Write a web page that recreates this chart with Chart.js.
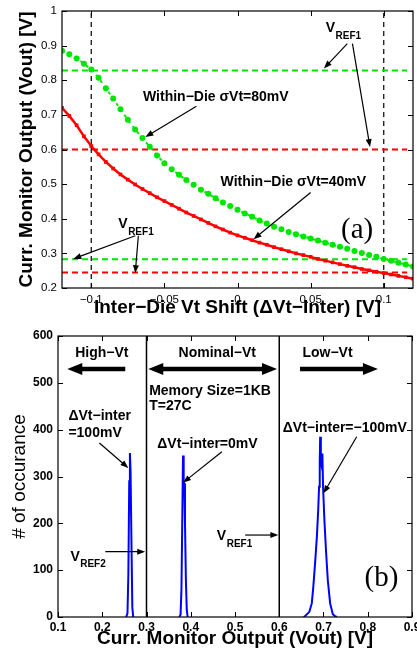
<!DOCTYPE html>
<html>
<head>
<meta charset="utf-8">
<title>Current monitor output</title>
<script src="https://cdn.jsdelivr.net/npm/chart.js@4/dist/chart.umd.min.js"></script>
<style>
  html, body { margin: 0; padding: 0; background: #fff; }
  #wrap { position: relative; width: 417px; height: 648px; overflow: hidden; }
  canvas { position: absolute; left: 0; }
  #chartA { top: 0; }
  #chartB { top: 322px; }
</style>
</head>
<body>
<div id="wrap">
  <canvas id="chartA" width="417" height="322"></canvas>
  <canvas id="chartB" width="417" height="326"></canvas>
</div>
<script>
/* (a) Vout vs inter-die Vt shift, (b) Vout histograms — two stacked Chart.js panels */

// ---- panel (a) data -------------------------------------------------------
var SHIFT_V = [-0.12, -0.115, -0.11, -0.105, -0.1, -0.095, -0.09, -0.085, -0.08, -0.075,
  -0.07, -0.065, -0.06, -0.055, -0.05, -0.045, -0.04, -0.035, -0.03, -0.025,
  -0.02, -0.015, -0.01, -0.005, 0, 0.005, 0.01, 0.015, 0.02, 0.025,
  0.03, 0.035, 0.04, 0.045, 0.05, 0.055, 0.06, 0.065, 0.07, 0.075,
  0.08, 0.085, 0.09, 0.095, 0.1, 0.105, 0.11, 0.115, 0.12];
var VOUT_40MV = [0.720, 0.697, 0.670, 0.638, 0.610, 0.586, 0.564, 0.545, 0.528, 0.513,
  0.499, 0.486, 0.474, 0.462, 0.451, 0.440, 0.429, 0.418, 0.408, 0.398,
  0.388, 0.378, 0.369, 0.360, 0.352, 0.345, 0.338, 0.331, 0.325, 0.318,
  0.312, 0.306, 0.300, 0.295, 0.290, 0.284, 0.279, 0.274, 0.269, 0.264,
  0.260, 0.255, 0.251, 0.247, 0.243, 0.239, 0.235, 0.231, 0.227];
var VOUT_80MV = [0.885, 0.875, 0.863, 0.848, 0.831, 0.807, 0.777, 0.747, 0.716, 0.686,
  0.658, 0.633, 0.608, 0.583, 0.560, 0.543, 0.527, 0.512, 0.498, 0.484,
  0.472, 0.459, 0.447, 0.437, 0.426, 0.415, 0.406, 0.395, 0.386, 0.377,
  0.370, 0.362, 0.355, 0.349, 0.343, 0.337, 0.331, 0.325, 0.319, 0.313,
  0.307, 0.301, 0.295, 0.290, 0.284, 0.279, 0.273, 0.268, 0.262];
var VREF_80MV = [0.828, 0.283];   // green dashed levels
var VREF_40MV = [0.600, 0.245];   // red dashed levels
var VREF_SPAN = [-0.12, 0.116];
var A_VLINES = [-0.1, 0.1];
var A_XTICKS = [-0.1, -0.05, 0, 0.05, 0.1];
var A_YTICKS = [0.2, 0.3, 0.4, 0.5, 0.6, 0.7, 0.8, 0.9, 1];

// ---- panel (b) data -------------------------------------------------------
var PEAK_HIGH_X = [0.254, 0.257, 0.259, 0.261, 0.2625, 0.264, 0.266, 0.268, 0.270];
var PEAK_HIGH_Y = [0, 8, 90, 290, 350, 310, 160, 20, 0];
var PEAK_NOM_X = [0.374, 0.377, 0.379, 0.381, 0.3825, 0.384, 0.3855, 0.387, 0.389, 0.391, 0.393];
var PEAK_NOM_Y = [0, 5, 60, 220, 345, 290, 285, 200, 80, 15, 0];
var PEAK_LOW_X = [0.655, 0.6585, 0.668, 0.6735, 0.677, 0.681, 0.685, 0.688, 0.690, 0.6915, 0.6925,
  0.694, 0.696, 0.6975, 0.699, 0.702, 0.706, 0.7097, 0.715, 0.721, 0.726, 0.73];
var PEAK_LOW_Y = [0, 2, 11, 29, 65, 115, 171, 228, 278, 330, 385,
  330, 321, 349, 278, 207, 136, 79, 29, 6, 2, 0];
var B_VLINES = [0.3, 0.6];
var B_XTICKS = [0.1, 0.2, 0.3, 0.4, 0.5, 0.6, 0.7, 0.8, 0.9];
var B_YTICKS = [0, 100, 200, 300, 400, 500, 600];

var SANS = '"Liberation Sans", Arial, Helvetica, sans-serif';
var SERIF = '"Liberation Serif", "Times New Roman", serif';
var RED = '#ff0000', GREEN = '#00e600', BLUE = '#0000ff';

// annotations, in data units of each panel
var A_TEXTS = [['Within\u2212Die \u03c3Vt=80mV', -0.0646, 0.751], ['Within\u2212Die \u03c3Vt=40mV', -0.0116, 0.505]];
var A_REFS = [['REF1', 0.0603, 0.950], ['REF1', -0.0815, 0.385]];
var A_ARROWS = [[0.0751, 0.906, 0.0591, 0.834], [0.0786, 0.906, 0.0906, 0.607],
  [-0.0281, 0.725, -0.063, 0.636], [0.05, 0.476, 0.011, 0.341],
  [-0.0699, 0.351, -0.1123, 0.284], [-0.0678, 0.351, -0.0699, 0.243]];
var A_TAG = ['(a)', 0.0818, 0.365];

var B_TEXTS = [['High\u2212Vt', 0.199, 563.7, 'center'], ['Nominal\u2212Vt', 0.46, 563.7, 'center'],
  ['Low\u2212Vt', 0.709, 563.7, 'center'], ['Memory Size=1KB', 0.306, 482.5], ['T=27C', 0.306, 450.5],
  ['\u0394Vt\u2212inter', 0.1235, 429], ['=100mV', 0.1235, 393],
  ['\u0394Vt\u2212inter=0mV', 0.3244, 369.4], ['\u0394Vt\u2212inter=\u2212100mV', 0.608, 403.5]];
var B_REFS = [['REF2', 0.128, 128.7], ['REF1', 0.459, 173]];
var B_ARROWS = [[0.1935, 371.5, 0.259, 318], [0.4704, 353, 0.3824, 286.7], [0.775, 385, 0.7, 264],
  [0.207, 139.4, 0.297, 139.4], [0.523, 175, 0.598, 175]];
var B_FAT = [[0.121, 0.252, 529.5, true, false], [0.304, 0.595, 529.5, true, true], [0.647, 0.823, 529.5, false, true]];
var B_TAG = ['(b)', 0.831, 83.3];

function pts(xs, ys) { return xs.map(function (x, i) { return { x: x, y: ys[i] }; }); }
function fmt(v) { return String(Math.round(v * 1000) / 1000).replace('-', '\u2212'); }

function thinArrow(c, x1, y1, x2, y2) {
  var a = Math.atan2(y2 - y1, x2 - x1), L = 8, W = 3;
  c.beginPath(); c.moveTo(x1, y1); c.lineTo(x2 - 5 * Math.cos(a), y2 - 5 * Math.sin(a)); c.stroke();
  c.beginPath(); c.moveTo(x2, y2);
  c.lineTo(x2 - L * Math.cos(a) + W * Math.sin(a), y2 - L * Math.sin(a) - W * Math.cos(a));
  c.lineTo(x2 - L * Math.cos(a) - W * Math.sin(a), y2 - L * Math.sin(a) + W * Math.cos(a));
  c.closePath(); c.fill();
}

function fatArrow(c, x1, x2, y, startHead, endHead) {
  var T = 2.3, H = 6, L = 15;
  var a = startHead ? x1 + L : x1, b = endHead ? x2 - L : x2;
  c.beginPath();
  c.moveTo(a, y - T); c.lineTo(b, y - T);
  if (endHead) { c.lineTo(b, y - H); c.lineTo(x2, y); c.lineTo(b, y + H); }
  c.lineTo(b, y + T); c.lineTo(a, y + T);
  if (startHead) { c.lineTo(a, y + H); c.lineTo(x1, y); c.lineTo(a, y - H); }
  c.closePath(); c.fill();
}

// MATLAB-like box with inward tick marks on all four sides
var boxTicks = {
  id: 'boxTicks',
  afterDatasetsDraw: function (chart) {
    var c = chart.ctx, a = chart.chartArea, sx = chart.scales.x, sy = chart.scales.y, len = 5;
    c.save();
    c.strokeStyle = '#000'; c.lineWidth = 1.2;
    c.strokeRect(a.left, a.top, a.right - a.left, a.bottom - a.top);
    c.lineWidth = 1;
    c.beginPath();
    sx.ticks.forEach(function (t) {
      var p = Math.round(sx.getPixelForValue(t.value)) + 0.5;
      c.moveTo(p, a.bottom); c.lineTo(p, a.bottom - len);
      c.moveTo(p, a.top); c.lineTo(p, a.top + len);
    });
    sy.ticks.forEach(function (t) {
      var p = Math.round(sy.getPixelForValue(t.value)) + 0.5;
      c.moveTo(a.left, p); c.lineTo(a.left + len, p);
      c.moveTo(a.right, p); c.lineTo(a.right - len, p);
    });
    c.stroke();
    c.restore();
  }
};

function notes(texts, refs, arrows, fats, tag) {
  return {
    id: 'notes',
    afterDraw: function (chart) {
      var c = chart.ctx, sx = chart.scales.x, sy = chart.scales.y;
      function X(v) { return sx.getPixelForValue(v); }
      function Y(v) { return sy.getPixelForValue(v); }
      c.save();
      c.fillStyle = '#000'; c.strokeStyle = '#000'; c.lineWidth = 1.2;
      c.textBaseline = 'middle';
      c.font = 'bold 14px ' + SANS;
      texts.forEach(function (t) {
        c.textAlign = t[3] || 'left';
        c.fillText(t[0], X(t[1]), Y(t[2]));
      });
      c.textAlign = 'left';
      refs.forEach(function (r) {
        var x = X(r[1]), y = Y(r[2]);
        c.font = 'bold 14px ' + SANS;
        c.fillText('V', x, y);
        var w = c.measureText('V').width;
        c.font = 'bold 10px ' + SANS;
        c.fillText(r[0], x + w + 0.5, y + 8);
      });
      arrows.forEach(function (a) { thinArrow(c, X(a[0]), Y(a[1]), X(a[2]), Y(a[3])); });
      fats.forEach(function (f) { fatArrow(c, X(f[0]), X(f[1]), Y(f[2]), f[3], f[4]); });
      c.font = '29px ' + SERIF;
      c.textAlign = 'center';
      c.fillText(tag[0], X(tag[1]), Y(tag[2]));
      c.restore();
    }
  };
}

function axis(min, max, ticks, fixed, tickFont, pad, title, titleFont, titlePad) {
  return {
    type: 'linear', min: min, max: max,
    grid: { display: false, drawTicks: false },
    border: { display: false },
    afterBuildTicks: function (s) { s.ticks = ticks.map(function (v) { return { value: v }; }); },
    afterFit: function (s) {
      if (s.isHorizontal()) { s.height = fixed; s.paddingLeft = 0; s.paddingRight = 0; }
      else { s.width = fixed; s.paddingTop = 0; s.paddingBottom = 0; }
    },
    ticks: { font: tickFont, color: '#000', padding: pad, maxRotation: 0, autoSkip: false,
      callback: function (v) { return fmt(v); } },
    title: { display: true, text: title, color: '#000', font: titleFont, padding: titlePad }
  };
}

function refLine(level, color) {
  return { data: [{ x: VREF_SPAN[0], y: level }, { x: VREF_SPAN[1], y: level }],
    borderColor: color, borderWidth: 2, borderDash: [6, 4], pointRadius: 0 };
}
function vLine(x, y0, y1, dash, width) {
  return { data: [{ x: x, y: y0 }, { x: x, y: y1 }], borderColor: '#000',
    borderWidth: width, borderDash: dash, pointRadius: 0 };
}

var base = { responsive: false, animation: false, events: [],
  plugins: { legend: { display: false }, tooltip: { enabled: false } } };

// ---- panel (a) ------------------------------------------------------------
var dsA = [
  { data: pts(SHIFT_V, VOUT_40MV), borderColor: RED, borderWidth: 2.5, pointStyle: 'rect',
    pointRadius: 2.6, pointBackgroundColor: RED, pointBorderWidth: 0 },
  { data: pts(SHIFT_V, VOUT_80MV), borderColor: GREEN, borderWidth: 2, borderDash: [3, 4],
    pointStyle: 'circle', pointRadius: 3, pointBackgroundColor: GREEN, pointBorderWidth: 0 }
];
VREF_80MV.forEach(function (v) { dsA.push(refLine(v, GREEN)); });
VREF_40MV.forEach(function (v) { dsA.push(refLine(v, RED)); });
A_VLINES.forEach(function (x) { dsA.push(vLine(x, 0.2, 1, [5, 4], 1.2)); });

new Chart(document.getElementById('chartA'), {
  type: 'line',
  data: { datasets: dsA },
  options: Object.assign({}, base, {
    layout: { padding: { left: 0, right: 4, top: 11, bottom: 0 } },
    scales: {
      x: axis(-0.12, 0.12, A_XTICKS, 34, { family: SANS, size: 11.5 }, 5,
        'Inter\u2212Die Vt Shift (\u0394Vt\u2212Inter) [V]',
        { family: SANS, size: 19, weight: 'bold', lineHeight: 1 }, { top: 0, bottom: 4.5 }),
      y: axis(0.2, 1, A_YTICKS, 62, { family: SANS, size: 11.5 }, 5,
        'Curr. Monitor Output (Vout) [V]',
        { family: SANS, size: 19, weight: 'bold', lineHeight: 1 }, { top: 17, bottom: 0 })
    }
  }),
  plugins: [boxTicks, notes(A_TEXTS, A_REFS, A_ARROWS, [], A_TAG)]
});

// ---- panel (b) ------------------------------------------------------------
var dsB = [
  { data: pts(PEAK_HIGH_X, PEAK_HIGH_Y), borderColor: BLUE, borderWidth: 2, pointRadius: 0 },
  { data: pts(PEAK_NOM_X, PEAK_NOM_Y), borderColor: BLUE, borderWidth: 2, pointRadius: 0 },
  { data: pts(PEAK_LOW_X, PEAK_LOW_Y), borderColor: BLUE, borderWidth: 2, pointRadius: 0 }
];
B_VLINES.forEach(function (x) { dsB.push(vLine(x, 0, 600, [], 1.5)); });

new Chart(document.getElementById('chartB'), {
  type: 'line',
  data: { datasets: dsB },
  options: Object.assign({}, base, {
    layout: { padding: { left: 0, right: 5, top: 14, bottom: 0 } },
    scales: {
      x: axis(0.1, 0.9, B_XTICKS, 31, { family: SANS, size: 12, weight: 'bold' }, 3,
        'Curr. Monitor Output (Vout) [V]',
        { family: SANS, size: 19, weight: 'bold', lineHeight: 1 }, { top: 0, bottom: 0 }),
      y: axis(0, 600, B_YTICKS, 58, { family: SANS, size: 12, weight: 'bold' }, 5,
        '# of occurance',
        { family: SANS, size: 19, lineHeight: 1 }, { top: 10.5, bottom: 0 })
    }
  }),
  plugins: [boxTicks, notes(B_TEXTS, B_REFS, B_ARROWS, B_FAT, B_TAG)]
});
</script>
</body>
</html>
